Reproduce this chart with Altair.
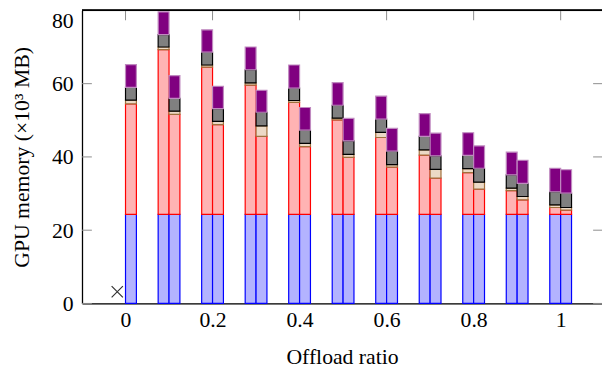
import altair as alt
import pandas as pd

# ---------------- data ----------------
positions = [0.0, 0.1, 0.2, 0.3, 0.4, 0.5, 0.6, 0.7, 0.8, 0.9, 1.0]
layer_names = ["blue", "pink", "beige", "gray", "purple"]

# left bar of each pair (no bar at offload ratio 0 -> marked with a cross)
left_blue   = [None, 24.3, 24.3, 24.3, 24.3, 24.3, 24.3, 24.3, 24.3, 24.3, 24.3]
left_pink   = [None, 45.0, 40.2, 35.3, 30.6, 25.8, 21.0, 16.2, 11.4, 6.5, 1.9]
left_beige  = [None, 0.7, 0.6, 0.6, 0.5, 0.5, 1.4, 1.4, 1.1, 0.7, 0.7]
left_gray   = [None, 3.4, 3.5, 3.6, 3.4, 3.5, 3.6, 3.7, 3.6, 3.6, 3.6]
left_purple = [None, 6.2, 6.1, 6.2, 6.3, 6.2, 6.3, 6.2, 6.2, 6.2, 6.4]

# right bar of each pair
right_blue   = [24.3, 24.3, 24.3, 24.3, 24.3, 24.3, 24.3, 24.3, 24.3, 24.3, 24.3]
right_pink   = [30.2, 27.3, 24.5, 21.3, 18.5, 15.6, 12.9, 9.9, 6.9, 4.0, 1.2]
right_beige  = [1.0, 0.9, 0.9, 2.9, 0.9, 0.8, 0.7, 2.4, 1.9, 0.9, 0.7]
right_gray   = [3.5, 3.5, 3.5, 3.7, 3.6, 3.7, 3.7, 3.7, 3.8, 3.6, 3.9]
right_purple = [6.2, 6.2, 6.1, 6.0, 6.2, 6.1, 6.2, 6.2, 6.1, 6.3, 6.4]

failed_x = [-0.019]
failed_y = [3.2]

x_ticks = [0, 0.2, 0.4, 0.6, 0.8, 1.0]
y_ticks = [0, 20, 40, 60, 80]

# ---------------- styling ----------------
fills = ["#b3b3ff", "#ffb3b3", "#ecd9c6", "#808080", "#800080"]
strokes = ["#0000ff", "#ff0000", "#a0703c", "#000000", "#c08ac0"]
bar_width = 0.025
W, H = 527, 297
FONT = "Liberation Serif"
FS = 22

rows = []
for lo, hi, cols in [
    (-bar_width, 0.0, [left_blue, left_pink, left_beige, left_gray, left_purple]),
    (0.0, bar_width, [right_blue, right_pink, right_beige, right_gray, right_purple]),
]:
    for i, p in enumerate(positions):
        base = 0.0
        for name, vals in zip(layer_names, cols):
            v = vals[i]
            if v is None:
                continue
            rows.append(dict(x0=p + lo, x1=p + hi, y0=base, y1=base + v, layer=name))
            base += v
bars_df = pd.DataFrame(rows)

xscale = alt.Scale(domain=[-0.1, 1.095], nice=False, zero=False)
yscale = alt.Scale(domain=[0, 80], nice=False)
XT = "Offload ratio"
YT = "GPU memory (×10³ MB)"

xaxis = alt.Axis(values=x_ticks, format="~g", tickSize=0, labelPadding=6,
                 domainColor="black", domainWidth=1.3, grid=False,
                 labelFont=FONT, labelFontSize=FS, labelColor="black",
                 titleFont=FONT, titleFontSize=FS, titleFontWeight="normal",
                 titleColor="black", titleY=54, titleBaseline="middle")
yaxis = alt.Axis(values=y_ticks, tickSize=0, labelPadding=9,
                 domainColor="black", domainWidth=1.3, grid=False,
                 labelFont=FONT, labelFontSize=FS, labelColor="black",
                 labelBaseline={"condition": {"test": "datum.value == 80", "value": "top"},
                                "value": "middle"},
                 titleFont=FONT, titleFontSize=FS, titleFontWeight="normal",
                 titleColor="black", titleAngle=270, titleX=-61, titleY=H / 2,
                 titleBaseline="middle", titleAlign="center")


def X(field):
    return alt.X(field, type="quantitative", scale=xscale, axis=xaxis, title=XT)


def Y(field):
    return alt.Y(field, type="quantitative", scale=yscale, axis=yaxis, title=YT)


tick_color = "#8c8c8c"
xt_df = pd.DataFrame({"t": x_ticks})
yt_df = pd.DataFrame({"t": y_ticks})

top_ticks = alt.Chart(xt_df).mark_rule(color=tick_color, strokeWidth=1).encode(
    x=X("t"), y=alt.value(0), y2=alt.value(10))
bottom_ticks = alt.Chart(xt_df).mark_rule(color=tick_color, strokeWidth=1).encode(
    x=X("t"), y=alt.value(H - 10), y2=alt.value(H))
left_ticks = alt.Chart(yt_df).mark_rule(color=tick_color, strokeWidth=1).encode(
    y=Y("t"), x=alt.value(0), x2=alt.value(10))
right_ticks = alt.Chart(yt_df).mark_rule(color=tick_color, strokeWidth=1).encode(
    y=Y("t"), x=alt.value(W - 9), x2=alt.value(W))

bars = alt.Chart(bars_df).mark_rect(strokeWidth=1.2).encode(
    x=X("x0"), x2="x1", y=Y("y0"), y2="y1",
    fill=alt.Fill("layer:N", scale=alt.Scale(domain=layer_names, range=fills), legend=None),
    stroke=alt.Stroke("layer:N", scale=alt.Scale(domain=layer_names, range=strokes), legend=None),
)

marker = alt.Chart(pd.DataFrame({"mx": failed_x, "my": failed_y})).mark_point(
    shape="M-1,-1L1,1M-1,1L1,-1", filled=False, size=130, strokeWidth=1.2,
    color="#333333", opacity=1).encode(x=X("mx"), y=Y("my"))

top_border = alt.Chart(xt_df).mark_rule(color="black", strokeWidth=1.3).encode(
    y=alt.value(0), x=alt.value(0), x2=alt.value(W))

chart = alt.layer(top_ticks, bottom_ticks, left_ticks, right_ticks, bars, marker,
                  top_border).properties(
    width=W, height=H,
    autosize=alt.AutoSizeParams(type="none"),
    padding={"left": 75, "top": 0, "right": 0, "bottom": 64},
).configure_view(stroke=None).configure(font=FONT)

chart.save("out.html", embed_options={"renderer": "svg", "actions": False})
